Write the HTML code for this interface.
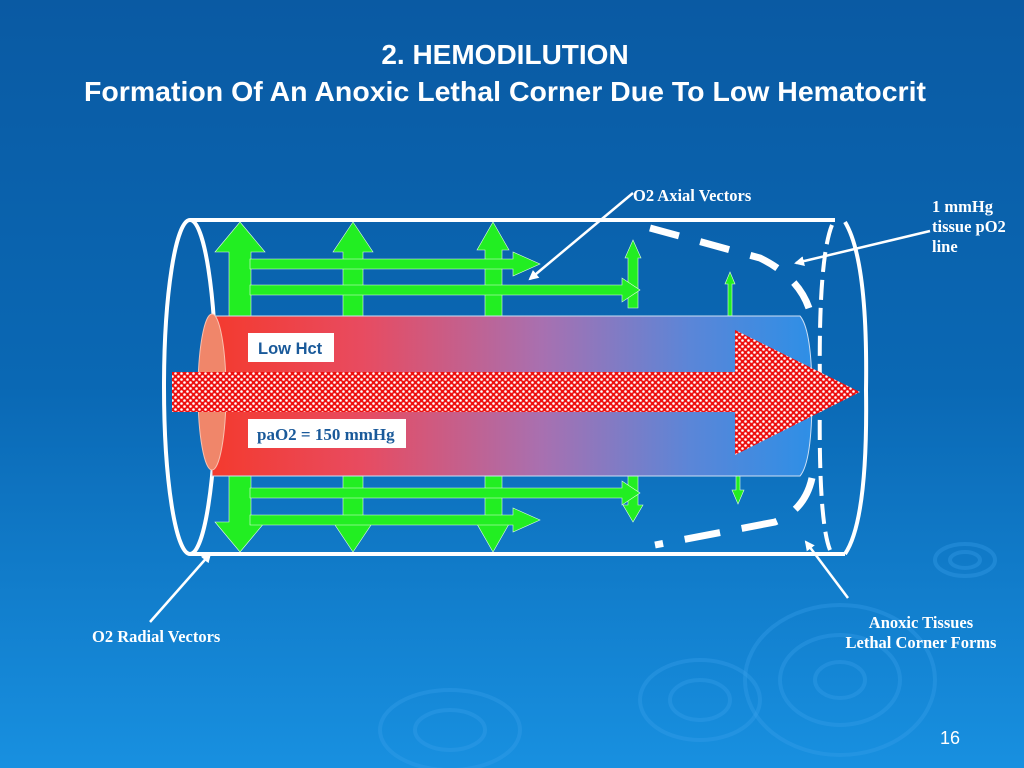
<!DOCTYPE html>
<html><head><meta charset="utf-8"><style>
html,body{margin:0;padding:0;width:1024px;height:768px;overflow:hidden}
svg{display:block}
</style></head><body>
<svg width="1024" height="768" viewBox="0 0 1024 768" xmlns="http://www.w3.org/2000/svg">
<defs>
<linearGradient id="bg" x1="0" y1="0" x2="0" y2="1">
<stop offset="0" stop-color="#0a5aa3"/><stop offset="0.5" stop-color="#0a68b4"/><stop offset="1" stop-color="#1890e0"/>
</linearGradient>
<linearGradient id="ves" x1="0" y1="0" x2="1" y2="0">
<stop offset="0" stop-color="#f43a2e"/><stop offset="0.25" stop-color="#e84b60"/><stop offset="0.55" stop-color="#a870b0"/><stop offset="0.8" stop-color="#5a86d8"/><stop offset="1" stop-color="#2e8fe6"/>
</linearGradient>
<pattern id="chk" width="6" height="6" patternUnits="userSpaceOnUse">
<rect width="6" height="6" fill="#ee1010"/>
<circle cx="1.5" cy="1.5" r="1.3" fill="#fff"/><circle cx="4.5" cy="4.5" r="1.3" fill="#fff"/>
</pattern>
<marker id="ah" markerWidth="10" markerHeight="10" refX="8" refY="5" orient="auto" markerUnits="userSpaceOnUse">
<path d="M0,0 L10,5 L0,10 z" fill="#fff"/>
</marker>
</defs>
<rect width="1024" height="768" fill="url(#bg)"/>
<g fill="none" stroke="#3aa0ea" stroke-opacity="0.35" stroke-width="4">
<ellipse cx="840" cy="680" rx="95" ry="75"/><ellipse cx="840" cy="680" rx="60" ry="45"/><ellipse cx="840" cy="680" rx="25" ry="18"/>
<ellipse cx="700" cy="700" rx="60" ry="40"/><ellipse cx="700" cy="700" rx="30" ry="20"/>
<ellipse cx="450" cy="730" rx="70" ry="40"/><ellipse cx="450" cy="730" rx="35" ry="20"/>
<ellipse cx="965" cy="560" rx="30" ry="16"/><ellipse cx="965" cy="560" rx="15" ry="8"/>
</g>
<text x="505" y="64" text-anchor="middle" font-family="Liberation Sans, sans-serif" font-weight="bold" font-size="28" fill="#fff">2. HEMODILUTION</text>
<text x="505" y="101" text-anchor="middle" font-family="Liberation Sans, sans-serif" font-weight="bold" font-size="28" fill="#fff" textLength="842" lengthAdjust="spacingAndGlyphs">Formation Of An Anoxic Lethal Corner Due To Low Hematocrit</text>

<g fill="none" stroke="#fff" stroke-width="4">
<line x1="190" y1="220" x2="835" y2="220"/>
<line x1="190" y1="554" x2="845" y2="554"/>
<ellipse cx="190" cy="387" rx="26" ry="167"/>
<path d="M845,222 Q868,260 866,390 Q868,520 845,554"/>
</g>
<path d="M832,225 Q818,260 820,390 Q818,520 830,550" fill="none" stroke="#fff" stroke-width="4" stroke-dasharray="20,8"/>

<g fill="#22ee22" stroke="#dfffdf" stroke-width="0.6">
<path d="M240,222 L265,252 L251,252 L251,522 L265,522 L240,552 L215,522 L229,522 L229,252 L215,252 z"/>
<path d="M353,222 L373,252 L363,252 L363,522 L373,522 L353,552 L333,522 L343,522 L343,252 L333,252 z"/>
<path d="M493,222 L509,250 L502,250 L502,524 L509,524 L493,552 L477,524 L485,524 L485,250 L477,250 z"/>
<path d="M633,240 L641,258 L638,258 L638,308 L628,308 L628,258 L625,258 z"/>
<path d="M628,452 L638,452 L638,505 L643,505 L633,522 L623,505 L628,505 z"/>
<path d="M250,259 L513,259 L513,252 L540,264 L513,276 L513,269 L250,269 z"/>
<path d="M250,285 L622,285 L622,278 L640,290 L622,302 L622,295 L250,295 z"/>
<path d="M250,488 L622,488 L622,481 L640,493 L622,505 L622,498 L250,498 z"/>
<path d="M250,515 L513,515 L513,508 L540,520 L513,532 L513,525 L250,525 z"/>
<path d="M730,272 L735,284 L732,284 L732,318 L728,318 L728,284 L725,284 z"/>
<path d="M736,452 L740,452 L740,490 L744,490 L738,504 L732,490 L736,490 z"/>
</g>

<path d="M212,316 L800,316 Q812,330 812,396 Q812,462 800,476 L212,476 z" fill="url(#ves)" stroke="#cfe0f5" stroke-width="1"/>
<ellipse cx="212" cy="392" rx="14" ry="78" fill="#f0866a" stroke="#f9c0b0" stroke-width="1"/>

<path d="M172,372 L735,372 L735,330 L860,392 L735,455 L735,412 L172,412 z" fill="url(#chk)"/>

<rect x="248" y="333" width="86" height="29" fill="#fff"/>
<text x="258" y="354" font-family="Liberation Sans, sans-serif" font-weight="bold" font-size="16.5" fill="#1a5a9a">Low Hct</text>
<rect x="248" y="419" width="158" height="29" fill="#fff"/>
<text x="257" y="440" font-family="Liberation Serif, serif" font-weight="bold" font-size="17" fill="#1a5a9a">paO2 = 150 mmHg</text>

<path d="M650,228 L760,258 Q805,280 812,320" fill="none" stroke="#fff" stroke-width="7" stroke-dasharray="30,22"/>
<path d="M812,478 Q805,510 775,522 L655,545" fill="none" stroke="#fff" stroke-width="7" stroke-dasharray="36,22"/>

<g stroke="#fff" stroke-width="2.5" fill="none" marker-end="url(#ah)">
<line x1="633" y1="193" x2="530" y2="279"/>
<line x1="930" y1="231" x2="796" y2="263"/>
<line x1="848" y1="598" x2="806" y2="542"/>
<line x1="150" y1="622" x2="210" y2="554"/>
</g>
<g font-family="Liberation Serif, serif" font-weight="bold" font-size="16.5" fill="#fff">
<text x="633" y="201">O2 Axial Vectors</text>
<text x="932" y="212">1 mmHg</text>
<text x="932" y="232">tissue pO2</text>
<text x="932" y="252">line</text>
<text x="921" y="628" text-anchor="middle">Anoxic Tissues</text>
<text x="921" y="648" text-anchor="middle">Lethal Corner Forms</text>
<text x="92" y="642">O2 Radial Vectors</text>
</g>
<text x="940" y="744" font-family="Liberation Sans, sans-serif" font-size="18" fill="#fff">16</text>
</svg>
</body></html>
